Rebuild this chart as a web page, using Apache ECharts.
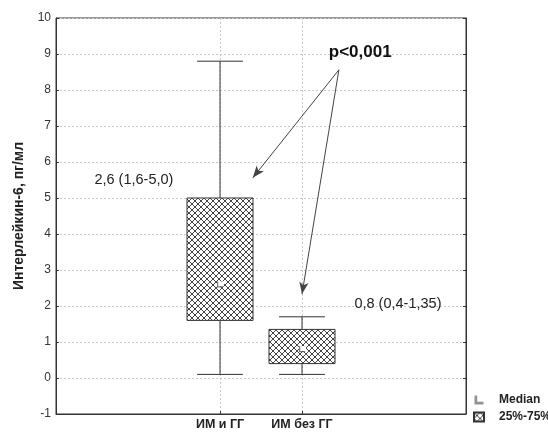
<!DOCTYPE html>
<html><head><meta charset="utf-8">
<script src="https://cdn.jsdelivr.net/npm/echarts@6/dist/echarts.min.js"></script>
<style>html,body{margin:0;padding:0;background:#fff}#c{width:548px;height:434px}</style>
</head><body><div id="c"></div>
<script>
// ---- data ----
const categories = ['ИМ и ГГ', 'ИМ без ГГ'];
const catPositions = [2, 3];
const whiskerMin = [0.1, 0.1];
const q1 = [1.6, 0.4];
const medians = [2.6, 0.8];
const q3 = [5.0, 1.35];
const whiskerMax = [8.8, 1.7];
const annotations = ['2,6 (1,6-5,0)', '0,8 (0,4-1,35)'];
const pText = 'p<0,001';
const legendNames = ['Median', '25%-75%'];

// ---- pattern ----
const pc = document.createElement('canvas');
pc.width = 6; pc.height = 6;
const g = pc.getContext('2d');
g.fillStyle = '#fff'; g.fillRect(0, 0, 6, 6);
g.strokeStyle = '#444'; g.lineWidth = 1;
g.beginPath(); g.moveTo(-1, -1); g.lineTo(7, 7); g.moveTo(7, -1); g.lineTo(-1, 7); g.stroke();
const pattern = { image: pc, repeat: 'repeat' };

const boxData = catPositions.map((p, i) => [p, whiskerMin[i], q1[i], medians[i], q3[i], whiskerMax[i]]);
const medData = catPositions.map((p, i) => [p, medians[i]]);
const font = 'Liberation Sans, Arial, sans-serif';
const lineColor = '#333';

const chart = echarts.init(document.getElementById('c'), null, { renderer: 'canvas' });
chart.setOption({
  animation: false,
  backgroundColor: '#fff',
  textStyle: { fontFamily: font },
  grid: { left: 56, right: 82, top: 18, bottom: 20, show: true, borderColor: lineColor, borderWidth: 1 },
  xAxis: {
    type: 'value', min: 0, max: 5, interval: 1,
    axisLine: { show: true, onZero: false, lineStyle: { color: lineColor } },
    axisTick: { show: true, inside: true, length: 3, lineStyle: { color: lineColor },
      customValues: catPositions },
    splitLine: { show: true, lineStyle: { color: '#c8c8c8', type: [2, 2] } },
    axisLabel: { margin: 4, fontSize: 12.5, fontWeight: 'bold', color: '#222', fontFamily: font,
      customValues: catPositions,
      formatter: v => { const i = catPositions.indexOf(v); return i >= 0 ? categories[i] : ''; } }
  },
  yAxis: [{
    type: 'value', min: -1, max: 10, interval: 1,
    name: 'Интерлейкин-6, пг/мл', nameLocation: 'middle', nameGap: 30,
    nameTextStyle: { fontSize: 14, fontWeight: 'bold', color: '#222', fontFamily: font },
    axisLine: { show: true, onZero: false, lineStyle: { color: lineColor } },
    axisTick: { show: true, inside: true, length: 3, lineStyle: { color: lineColor } },
    splitLine: { show: true, lineStyle: { color: '#c8c8c8', type: [2, 2] } },
    axisLabel: { margin: 5, fontSize: 12, color: '#333', fontFamily: font }
  }, {
    type: 'value', min: -1, max: 10, interval: 1, position: 'right',
    axisLine: { show: true, onZero: false, lineStyle: { color: lineColor } },
    axisTick: { show: true, inside: true, length: 3, lineStyle: { color: lineColor } },
    splitLine: { show: false }, axisLabel: { show: false }
  }],
  legend: {
    orient: 'vertical', left: 468, top: 389, itemWidth: 10, itemHeight: 9, itemGap: 5,
    textStyle: { fontSize: 12, fontWeight: 'bold', color: '#222', fontFamily: font, padding: [0, 0, 0, 10] },
    data: [
      { name: legendNames[0], icon: 'path://M0,0 L3,0 L3,7 L10,7 L10,10 L0,10 Z', itemStyle: { color: '#777' } },
      { name: legendNames[1], icon: 'rect' }
    ]
  },
  series: [
    {
      name: legendNames[1], type: 'custom',
      itemStyle: { color: pattern, borderColor: lineColor, borderWidth: 1 },
      data: boxData,
      encode: { x: 0, y: [1, 2, 3, 4, 5] },
      renderItem: (params, api) => {
        const x = api.value(0);
        const lo = api.coord([x, api.value(1)]);
        const b = api.coord([x, api.value(2)]);
        const m = api.coord([x, api.value(3)]);
        const t = api.coord([x, api.value(4)]);
        const hi = api.coord([x, api.value(5)]);
        const bw = api.size([0.805, 0])[0];
        const cw = api.size([0.56, 0])[0];
        const ls = { stroke: lineColor, lineWidth: 1 };
        return {
          type: 'group', children: [
            { type: 'line', shape: { x1: hi[0], y1: hi[1], x2: t[0], y2: t[1] }, style: ls },
            { type: 'line', shape: { x1: b[0], y1: b[1], x2: lo[0], y2: lo[1] }, style: ls },
            { type: 'line', shape: { x1: hi[0] - cw / 2, y1: hi[1], x2: hi[0] + cw / 2, y2: hi[1] }, style: ls },
            { type: 'line', shape: { x1: lo[0] - cw / 2, y1: lo[1], x2: lo[0] + cw / 2, y2: lo[1] }, style: ls },
            { type: 'rect', shape: { x: t[0] - bw / 2, y: t[1], width: bw, height: b[1] - t[1] },
              style: { fill: pattern, stroke: lineColor, lineWidth: 1 } },
            { type: 'rect', shape: { x: m[0] - 3, y: m[1] - 3, width: 7, height: 5 }, style: { fill: '#fff' } }
          ]
        };
      }
    },
    {
      name: legendNames[0], type: 'scatter', data: medData, z: 5,
      symbol: 'path://M0,0 L2,0 L2,8 L10,8 L10,10 L0,10 Z', symbolSize: [6, 6],
      itemStyle: { color: '#555' },
      markPoint: {
        symbol: 'circle', symbolSize: 0,
        label: { show: true, position: 'inside', fontSize: 14.5, color: '#222', fontFamily: font, formatter: p => p.name },
        data: [
          { name: annotations[0], coord: [0.95, 5.5] },
          { name: annotations[1], coord: [4.17, 2.06] },
          { name: pText, coord: [3.71, 9.06], label: { fontSize: 17, fontWeight: 'bold', color: '#111' } }
        ]
      },
      markLine: {
        silent: true, symbol: ['none', 'arrow'], symbolSize: 10,
        lineStyle: { color: '#444', type: 'solid', width: 1 },
        label: { show: false },
        data: [
          [{ coord: [3.45, 8.56], symbol: 'none' }, { coord: [2.4, 5.56], symbol: 'arrow', symbolSize: [7, 12] }],
          [{ coord: [3.45, 8.56], symbol: 'none' }, { coord: [3.0, 2.33], symbol: 'arrow', symbolSize: [7, 12] }]
        ]
      }
    }
  ]
});
</script></body></html>
